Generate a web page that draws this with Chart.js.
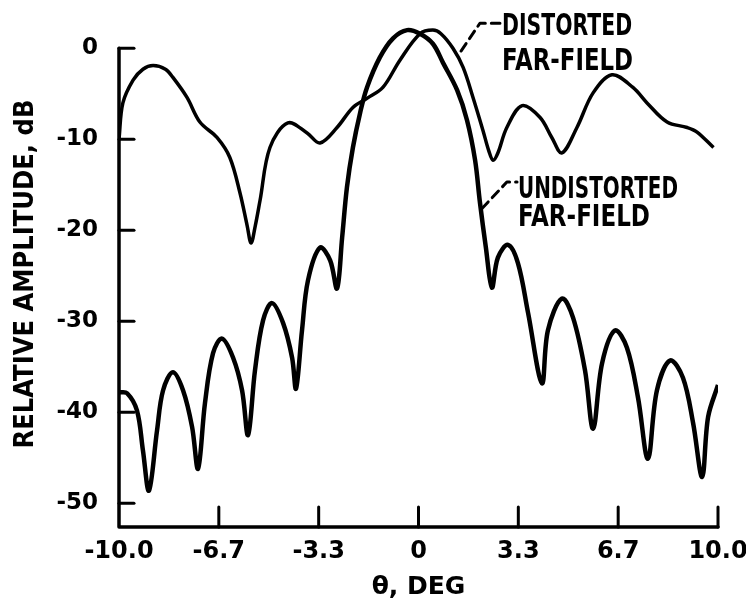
<!DOCTYPE html>
<html><head><meta charset="utf-8">
<script src="https://cdn.jsdelivr.net/npm/chart.js@4.4.1/dist/chart.umd.min.js"></script>
<style>html,body{margin:0;padding:0;background:#fff;}canvas{display:block;}</style>
</head><body>
<canvas id="c" width="746" height="602"></canvas>
<script>
// ---- data (theta in degrees, amplitude in dB) ----
const distTheta = [-10, -9.87, -9.53, -9.2, -8.86, -8.45, -8.2, -7.73, -7.3, -6.73, -6.3, -5.96, -5.72, -5.59, -5.45, -5.29, -4.96, -4.36, -3.72, -3.29, -2.72, -2.19, -1.72, -1.19, -0.62, 0.05, 0.48, 0.75, 1.15, 1.49, 1.82, 2.15, 2.35, 2.49, 2.65, 2.95, 3.46, 4.06, 4.45, 4.79, 5.29, 5.83, 6.46, 7.16, 7.63, 8.3, 8.97, 9.3, 9.85];
const distAmp = [-10, -6.0, -3.5, -2.3, -1.9, -2.3, -3.2, -5.4, -8.1, -9.8, -12.0, -15.9, -19.5, -21.4, -19.5, -16.7, -10.9, -8.2, -9.3, -10.4, -8.7, -6.5, -5.5, -4.3, -1.3, 1.6, 2.0, 1.6, 0.0, -2.1, -5.4, -9.0, -11.3, -12.3, -11.5, -8.7, -6.3, -7.6, -9.8, -11.5, -8.7, -4.9, -2.9, -4.3, -6.0, -8.1, -8.7, -9.2, -10.9];
const undTheta = [-10, -9.73, -9.4, -9.2, -9.0, -8.73, -8.53, -8.2, -7.86, -7.56, -7.36, -7.13, -6.86, -6.56, -6.19, -5.89, -5.69, -5.46, -5.19, -4.89, -4.52, -4.22, -4.09, -3.89, -3.69, -3.29, -2.95, -2.72, -2.55, -2.39, -2.19, -1.95, -1.72, -1.29, -0.85, -0.38, 0.05, 0.48, 0.82, 1.29, 1.62, 1.89, 2.05, 2.25, 2.45, 2.65, 2.99, 3.32, 3.66, 4.12, 4.32, 4.79, 5.16, 5.56, 5.83, 6.13, 6.56, 6.96, 7.33, 7.66, 7.96, 8.4, 8.83, 9.17, 9.47, 9.67, 10.0];
const undAmp = [-37.8, -37.9, -39.8, -44.2, -48.6, -42, -37.6, -35.6, -37.6, -41.6, -46.2, -39.0, -33.5, -31.9, -34.0, -37.6, -42.5, -35.4, -29.9, -28.0, -30.2, -34.0, -37.4, -31.0, -25.5, -21.9, -23.3, -26.4, -20.8, -15.3, -10.9, -7.1, -4.3, -1.0, 1.1, 2.0, 1.6, 0.5, -1.6, -4.6, -7.9, -12.3, -16.9, -21.9, -26.3, -23.0, -21.6, -23.6, -29.1, -36.8, -31.0, -27.5, -29.6, -35.4, -41.8, -34.6, -31.0, -32.9, -38.4, -45.1, -37.6, -34.3, -36.2, -41.2, -47.1, -40.5, -37.0];
const xTickValues = [-10, -6.667, -3.333, 0, 3.333, 6.667, 10];
const xTickLabels = ['-10.0', '-6.7', '-3.3', '0', '3.3', '6.7', '10.0'];
const yTickValues = [0, -10, -20, -30, -40, -50];
const yTickLabels = ['0', '-10', '-20', '-30', '-40', '-50'];
const distLabel = ['DISTORTED', 'FAR-FIELD'];
const undLabel = ['UNDISTORTED', 'FAR-FIELD'];
const xTitle = 'θ, DEG';
const yTitle = 'RELATIVE AMPLITUDE, dB';

const FONT = "'DejaVu Sans', sans-serif";
const CFONT = "'DejaVu Sans Condensed', 'DejaVu Sans', sans-serif";

// annotation placement (data coordinates of leader points / text anchor)
const notes = [
  {lines: distLabel, leader: [[1.42, -0.3], [2.05, 2.75], [2.72, 2.75]], tx: 2.79, base: [1.43, -2.4], widths: [130, 131]},
  {lines: undLabel, leader: [[2.12, -17.6], [2.95, -14.7], [3.29, -14.7]], tx: 3.32, base: [-16.4, -19.5], widths: [160, 132]}
];

const framePlugin = {
  id: 'frame',
  afterDraw(chart) {
    const {ctx, chartArea: a, scales: {x, y}} = chart;
    ctx.save();
    ctx.strokeStyle = '#000';
    ctx.fillStyle = '#000';
    ctx.lineCap = 'round';
    ctx.lineJoin = 'round';
    // axes
    ctx.lineWidth = 3.5;
    ctx.beginPath();
    ctx.moveTo(a.left, y.getPixelForValue(yTickValues[0]));
    ctx.lineTo(a.left, a.bottom);
    ctx.lineTo(a.right, a.bottom);
    ctx.stroke();
    ctx.lineWidth = 3;
    yTickValues.forEach(v => {
      const p = y.getPixelForValue(v);
      ctx.beginPath(); ctx.moveTo(a.left, p); ctx.lineTo(a.left + 15, p); ctx.stroke();
    });
    xTickValues.slice(1).forEach(v => {
      const p = x.getPixelForValue(v);
      ctx.beginPath(); ctx.moveTo(p, a.bottom); ctx.lineTo(p, a.bottom - 20); ctx.stroke();
    });
    // annotations
    notes.forEach(n => {
      ctx.lineWidth = 3;
      ctx.setLineDash([9, 6]);
      ctx.beginPath();
      n.leader.forEach((pt, i) => {
        const px = x.getPixelForValue(pt[0]), py = y.getPixelForValue(pt[1]);
        if (i === 0) ctx.moveTo(px, py); else ctx.lineTo(px, py);
      });
      ctx.stroke();
      ctx.setLineDash([]);
      ctx.font = "bold 30px " + FONT;
      ctx.textBaseline = 'alphabetic';
      ctx.textAlign = 'left';
      n.lines.forEach((t, i) => {
        const px = x.getPixelForValue(n.tx), py = y.getPixelForValue(n.base[i]);
        const w = ctx.measureText(t).width;
        ctx.save();
        ctx.translate(px, py);
        ctx.scale(n.widths[i] / w, 1);
        ctx.fillText(t, 0, 0);
        ctx.restore();
      });
    });
    ctx.restore();
  }
};

new Chart(document.getElementById('c'), {
  type: 'line',
  data: {
    datasets: [
      {label: distLabel.join(' '), data: distTheta.map((t, i) => ({x: t, y: distAmp[i]})), borderColor: '#000', borderWidth: 3.5, pointRadius: 0, tension: 0.35, fill: false},
      {label: undLabel.join(' '), data: undTheta.map((t, i) => ({x: t, y: undAmp[i]})), borderColor: '#000', borderWidth: 4.5, pointRadius: 0, tension: 0.35, fill: false}
    ]
  },
  options: {
    responsive: false,
    animation: false,
    devicePixelRatio: 1,
    layout: {padding: {top: 21, right: 28, left: 0, bottom: 0}},
    plugins: {legend: {display: false}, tooltip: {enabled: false}},
    scales: {
      x: {
        type: 'linear', min: -10, max: 10,
        grid: {display: false, drawTicks: false},
        border: {display: false},
        afterBuildTicks: s => { s.ticks = xTickValues.map(v => ({value: v})); },
        afterFit: s => { s.height = 75; s.paddingLeft = 0; s.paddingRight = 0; },
        ticks: {
          autoSkip: false, maxRotation: 0, padding: 10, color: '#000',
          font: {family: FONT, size: 24, weight: 'bold'},
          callback: (v, i) => xTickLabels[i]
        },
        title: {display: true, text: xTitle, color: '#000', font: {family: FONT, size: 25, weight: 'bold'}, padding: {top: 0, bottom: 0}}
      },
      y: {
        type: 'linear', min: -52.6, max: 3,
        grid: {display: false, drawTicks: false},
        border: {display: false},
        afterBuildTicks: s => { s.ticks = yTickValues.map(v => ({value: v})); },
        afterFit: s => { s.width = 119; s.paddingTop = 0; s.paddingBottom = 0; },
        ticks: {
          autoSkip: false, padding: 21, color: '#000',
          font: {family: FONT, size: 23, weight: 'bold'},
          callback: (v, i) => yTickLabels[i]
        },
        title: {display: true, text: yTitle, color: '#000', font: {family: CFONT, size: 27, weight: 'bold'}, padding: {top: 10, bottom: 0}}
      }
    }
  },
  plugins: [framePlugin]
});
</script>
</body></html>
